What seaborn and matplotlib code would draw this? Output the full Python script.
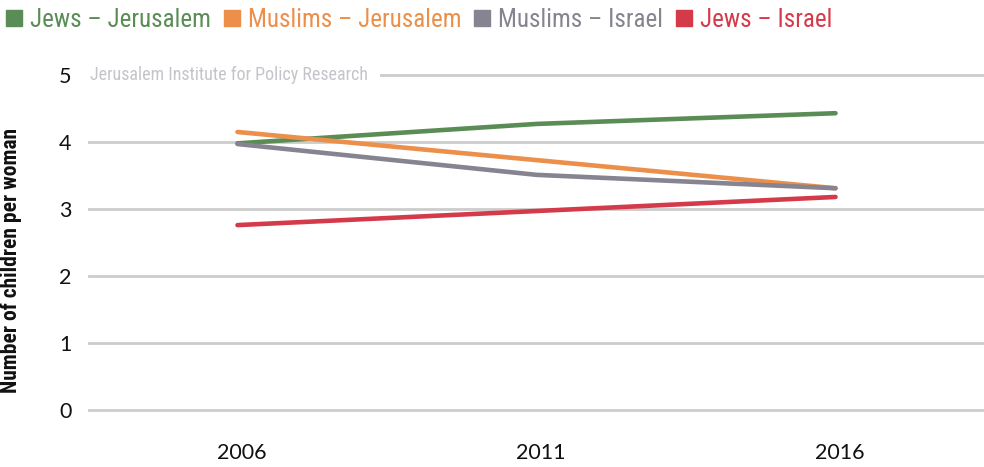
import matplotlib
matplotlib.use("Agg")
import matplotlib.pyplot as plt
import matplotlib.transforms as mtransforms
from matplotlib import font_manager
from matplotlib.lines import Line2D
import seaborn as sns
import pandas as pd

years = ["2006", "2011", "2016"]
jews_jerusalem = [3.98, 4.27, 4.43]
muslims_jerusalem = [4.15, 3.73, 3.31]
muslims_israel = [3.97, 3.51, 3.31]
jews_israel = [2.76, 2.97, 3.18]

series_names = ["Jews – Jerusalem", "Muslims – Jerusalem", "Muslims – Israel", "Jews – Israel"]
series_values = [jews_jerusalem, muslims_jerusalem, muslims_israel, jews_israel]
colors = ["#5a8c55", "#eb8f4a", "#858490", "#d43a4a"]


def pick_font(candidates, fallback="DejaVu Sans"):
    available = {f.name for f in font_manager.fontManager.ttflist}
    for name in candidates:
        if name in available:
            return name
    return fallback


narrow = pick_font(["Roboto Condensed", "Archivo Narrow", "PT Sans Narrow", "Liberation Sans Narrow"])

rows = []
for name, vals in zip(series_names, series_values):
    for y, v in zip(years, vals):
        rows.append({"year": y, "value": v, "series": name})
df = pd.DataFrame(rows)

sns.set_style("white")
plt.rcParams["font.family"] = ["Lato", "DejaVu Sans"]

fig = plt.figure(figsize=(9.84, 4.67), dpi=100)
ax = fig.add_axes([88 / 984, 0.1077, 897 / 984, 0.746])

sns.lineplot(data=df, x="year", y="value", hue="series", hue_order=series_names,
             palette=colors, linewidth=3.3, ax=ax, legend=False, sort=False, zorder=3)

ax.set_xlim(-0.5, 2.5)
ax.set_ylim(-0.1, 5.1)
ax.set_yticks([0, 1, 2, 3, 4, 5])
ax.yaxis.grid(True, color="#cccccc", linewidth=2.0)
ax.set_axisbelow(True)
for s in ax.spines.values():
    s.set_visible(False)
ax.tick_params(axis="both", length=0, labelsize=15.5, colors="#111111")
ax.tick_params(axis="y", pad=12)
ax.tick_params(axis="x", pad=19)
shift = mtransforms.ScaledTranslation(4 / 100, 0, fig.dpi_scale_trans)
for lbl in ax.get_xticklabels():
    lbl.set_transform(lbl.get_transform() + shift)
ax.set_xlabel("")
ax.set_ylabel("Number of children per woman", family=narrow, fontweight="bold",
              fontsize=15.5, color="#111111")
ax.yaxis.set_label_coords(-0.0736, 0.447)

# source note sitting over the top gridline
ax.text(0.002, 5.0, "Jerusalem Institute for Policy Research", transform=ax.get_yaxis_transform(),
        ha="left", va="center", family=narrow, fontsize=13, color="#c4c4ca",
        bbox=dict(facecolor="white", edgecolor="none", pad=9), zorder=5)

handles = [Line2D([], [], marker="s", linestyle="none", color=c, markersize=11.5) for c in colors]
leg = fig.legend(handles, series_names, loc="upper left", bbox_to_anchor=(6 / 984, 1 - 8 / 467),
                 ncol=4, frameon=False, borderpad=0, borderaxespad=0,
                 handlelength=0.64, handletextpad=0.32, columnspacing=0.52,
                 prop={"family": narrow, "size": 18})
for t, c in zip(leg.get_texts(), colors):
    t.set_color(c)

fig.savefig("out.png", dpi=100)
